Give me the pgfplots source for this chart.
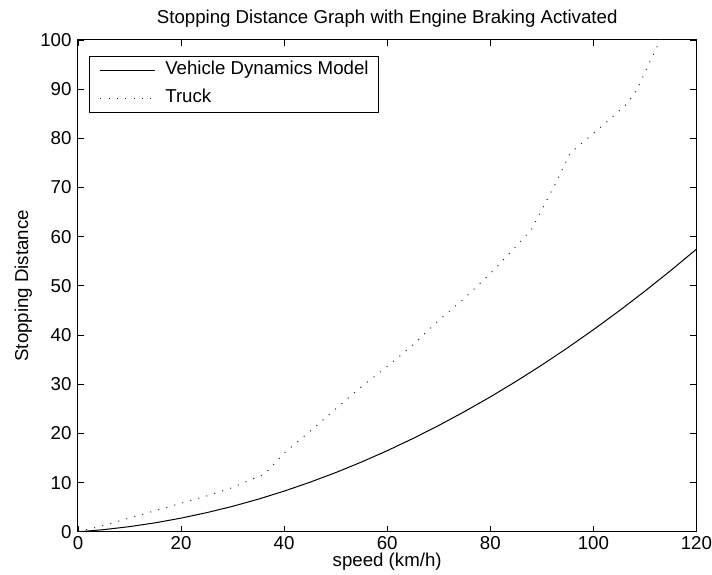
\documentclass[border=0pt]{standalone}
\usepackage{fontspec}
\setmainfont{Liberation Sans}
\usepackage{pgfplots}
\pgfplotsset{compat=1.18}

\begin{document}
\begin{tikzpicture}
\begin{axis}[
  name=ax,
  scale only axis,
  width=464pt, height=369pt,
  xmin=0, xmax=120, ymin=0, ymax=100,
  xtick={0,20,...,120},
  ytick={0,10,...,100},
  tick align=inside,
  major tick length=4.5pt,
  axis line style={line width=0.75pt},
  every tick/.style={black, line width=0.6pt},
  /pgf/number format/assume math mode=true,
  tick label style={font=\fontsize{14}{16}\selectfont, inner sep=0pt},
  xticklabel style={yshift=-3.5pt},
  yticklabel style={xshift=-4.7pt},
  xlabel={speed (km/h)},
  ylabel={Stopping Distance},
  label style={font=\fontsize{14}{16}\selectfont, inner sep=0pt},
  xlabel style={at={(axis description cs:0.5,-0.0705)}, anchor=base},
  ylabel style={at={(axis description cs:-0.0884,0.5)}, anchor=center},
  title={Stopping Distance Graph with Engine Braking Activated},
  title style={font=\fontsize{14}{16}\selectfont, inner sep=0pt,
    at={(axis description cs:0.5,1)}, anchor=base, yshift=6pt},
  legend style={at={(0.0183,0.967)}, anchor=north west, draw=black,
    line width=0.6pt, font=\fontsize{14}{16}\selectfont,
    nodes={inner xsep=0pt, inner ysep=0pt, text height=10.5pt, text depth=3.75pt},
    inner xsep=7.5pt, inner ysep=3pt, row sep=7pt, column sep=7.5pt},
  legend cell align=left,
  legend image code/.code={\draw[#1] (0pt,0pt) -- (41pt,0pt);},
]
\addplot[black, line width=0.75pt] coordinates {
  (0,0) (5,0.44) (10,1.05) (15,1.83) (20,2.78) (25,3.90) (30,5.18)
  (35,6.64) (40,8.27) (45,10.07) (50,12.04) (55,14.18) (60,16.49)
  (65,18.97) (70,21.62) (75,24.44) (80,27.42) (85,30.58) (90,33.91)
  (95,37.41) (100,41.08) (105,44.92) (110,48.93) (115,53.11) (120,57.46)
};
\addlegendentry{Vehicle Dynamics Model}
\addplot[black!85, line width=0.75pt, dash pattern=on 0.75pt off 5.5pt] coordinates {
  (0,0) (5,1.3) (10,2.8) (15,4.3) (20,5.8) (25,7.3) (30,9.0) (34,10.8)
  (36,11.6) (37,12.6) (40,16.0) (45,20.4) (50,25.0) (55,29.5) (60,33.6)
  (65,38.0) (70,43.0) (75,47.5) (80,52.5) (85,58.0) (88,61.5) (90,65.5)
  (93,71.5) (95.5,77.0) (100,81.0) (103,83.7) (106.5,87.0) (108.5,90.0)
  (110.7,95.0) (113,100) (114,102.5)
};
\addlegendentry{Truck}
\end{axis}
\path (ax.south west) ++(-58.5pt,-32.25pt);
\path (ax.north east) ++(11.7pt,30pt);
\end{tikzpicture}
\end{document}
